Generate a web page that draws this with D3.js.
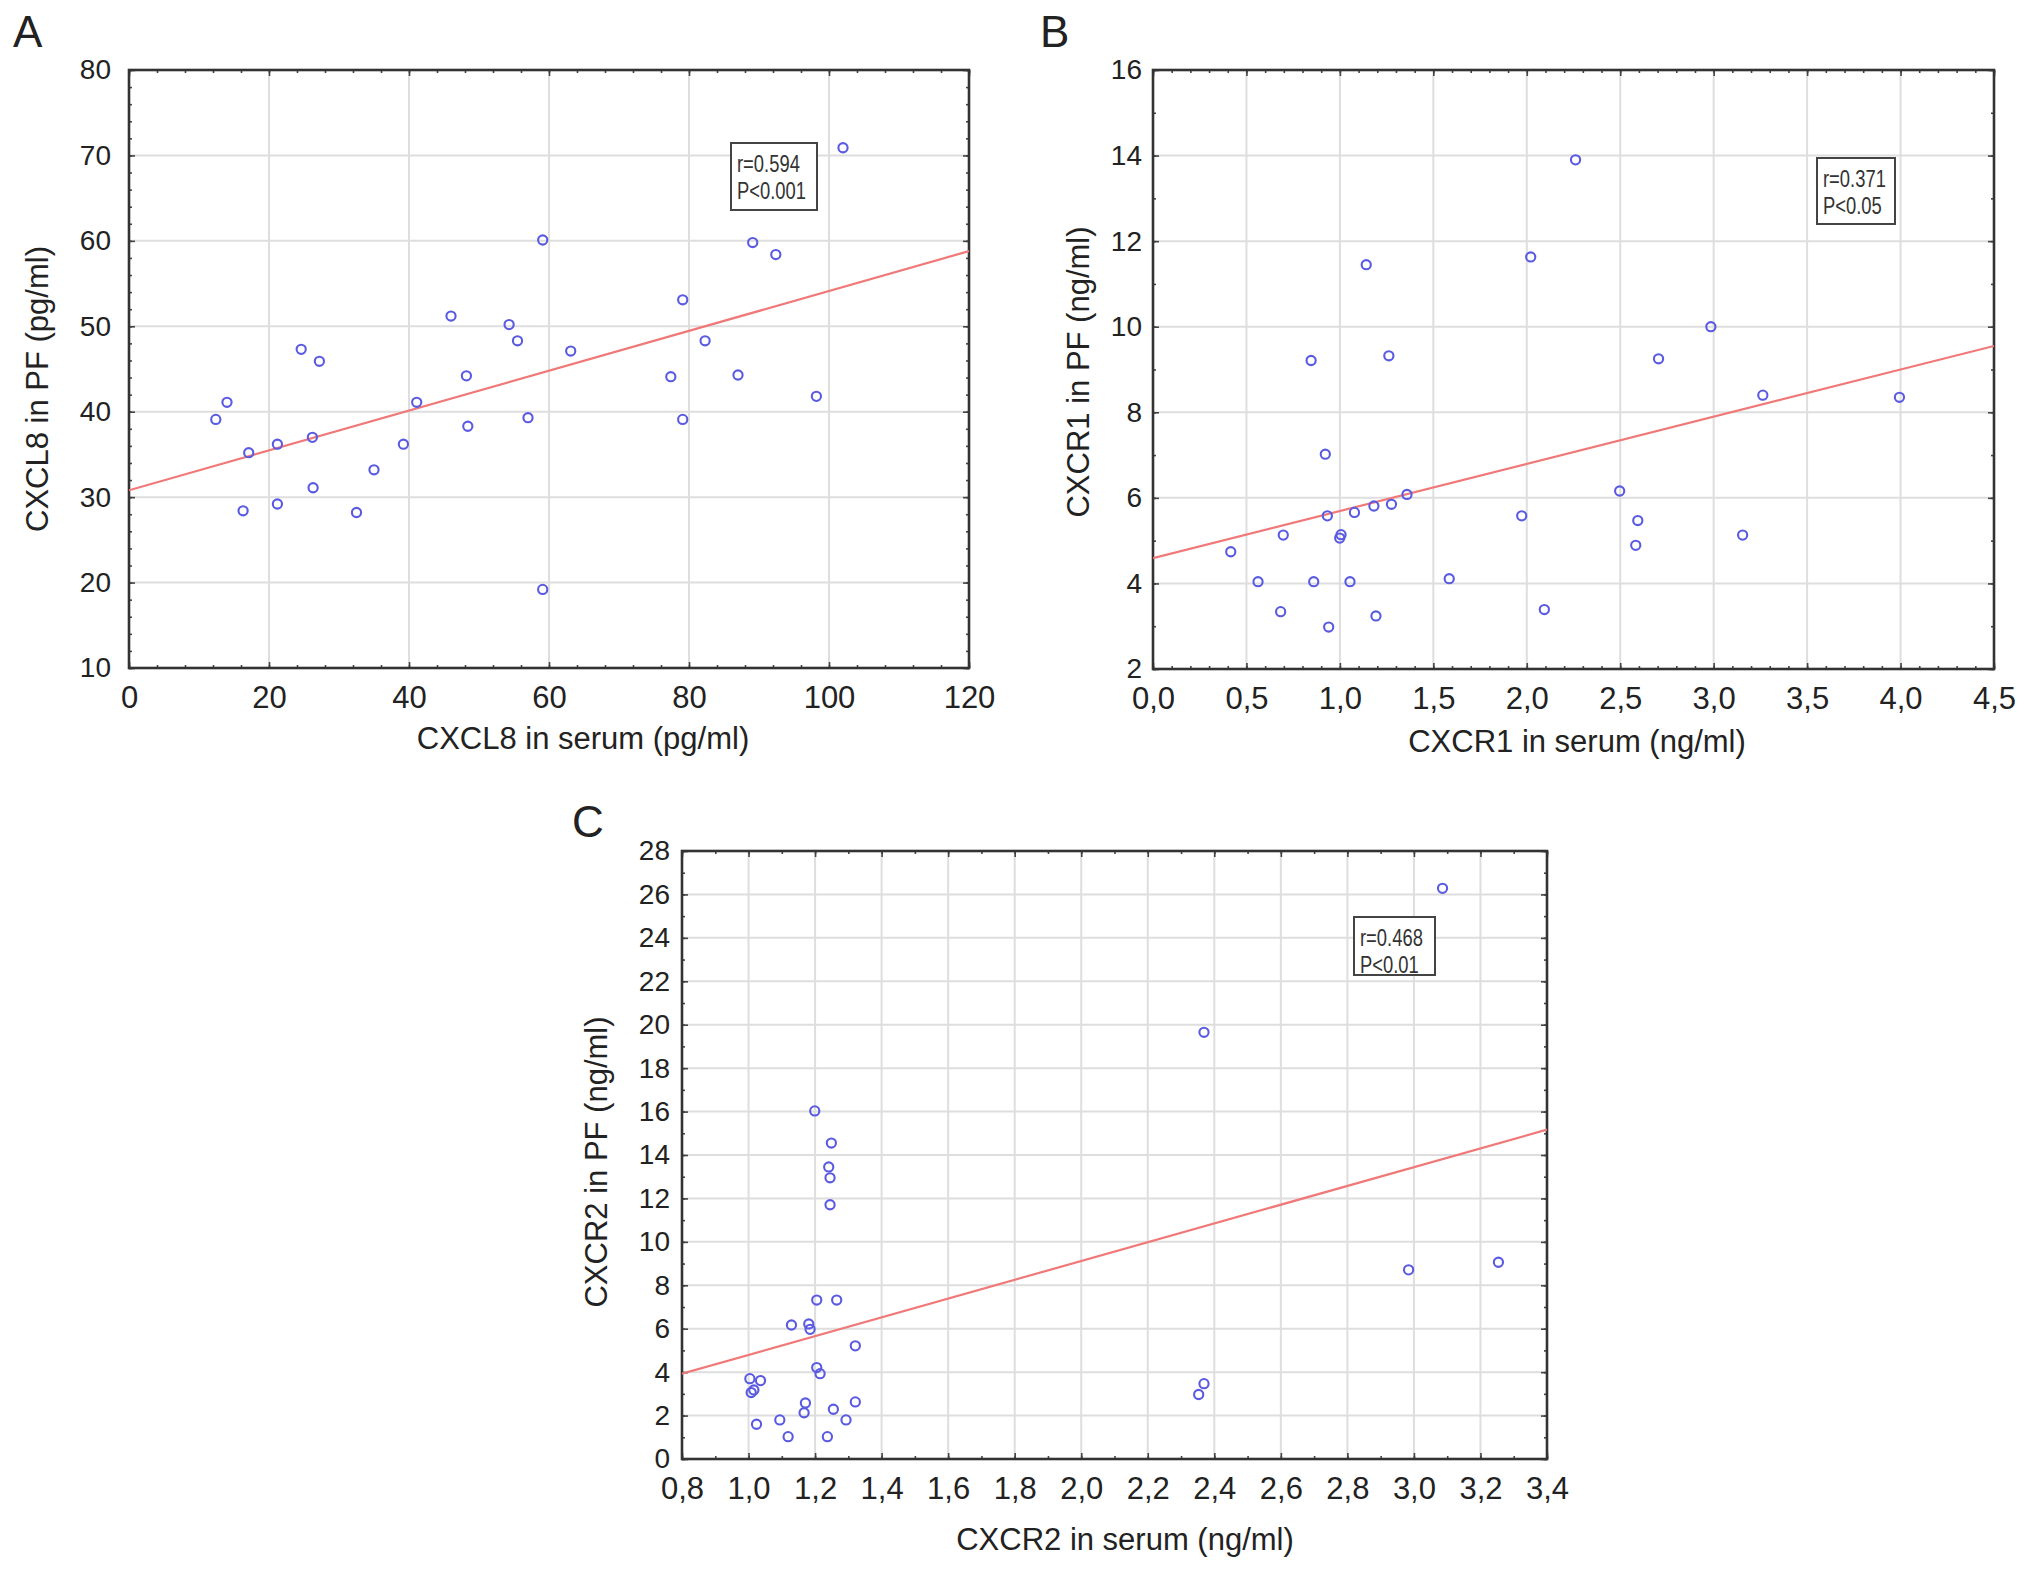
<!DOCTYPE html>
<html>
<head>
<meta charset="utf-8">
<script src="https://cdn.jsdelivr.net/npm/d3@7"></script>
<style>
  body { margin: 0; background: #fff; }
  text { font-family: "Liberation Sans", Arial, Helvetica, sans-serif; fill: #222; }
</style>
</head>
<body>
<div id="chart"></div>
<script>
// ---- panel A: CXCL8 ----
var cxcl8Serum = [12.4, 14.0, 16.3, 17.1, 21.2, 21.2, 24.6, 26.2, 26.3, 27.2, 32.5, 35.0, 39.2, 41.1, 46.0, 48.2,
                  48.4, 54.3, 55.5, 57.0, 59.1, 59.1, 63.1, 77.4, 79.1, 79.1, 82.3, 87.0, 89.1, 92.4, 98.2, 102.0]
var cxcl8PF    = [39.1, 41.1, 28.4, 35.2, 36.2, 29.2, 47.3, 37.0, 31.1, 45.9, 28.2, 33.2, 36.2, 41.1, 51.2, 44.2,
                  38.3, 50.2, 48.3, 39.3, 60.1, 19.2, 47.1, 44.1, 53.1, 39.1, 48.3, 44.3, 59.8, 58.4, 41.8, 70.9]
var cxcl8Fit = [[0, 30.8], [120, 58.8]]
var cxcl8Stat = ["r=0.594", "P<0.001"]

// ---- panel B: CXCR1 ----
var cxcr1Serum = [0.416, 0.562, 0.683, 0.697, 0.846, 0.860, 0.922, 0.933, 0.940, 0.999, 1.006, 1.054, 1.078, 1.141, 1.182, 1.193,
                  1.262, 1.276, 1.359, 1.585, 1.973, 2.021, 2.094, 2.261, 2.497, 2.583, 2.594, 2.705, 2.985, 3.155, 3.263, 3.994]
var cxcr1PF    = [4.74, 4.04, 3.34, 5.13, 9.21, 4.04, 7.02, 5.58, 2.98, 5.06, 5.14, 4.04, 5.66, 11.45, 5.81, 3.24,
                  9.32, 5.85, 6.08, 4.11, 5.58, 11.63, 3.39, 13.90, 6.16, 4.89, 5.47, 9.25, 10.0, 5.13, 8.40, 8.35]
var cxcr1Fit = [[0, 4.59], [4.5, 9.55]]
var cxcr1Stat = ["r=0.371", "P<0.05"]

// ---- panel C: CXCR2 ----
var cxcr2Serum = [1.004, 1.008, 1.016, 1.036, 1.024, 1.094, 1.119, 1.129, 1.167, 1.171, 1.181, 1.185, 1.199, 1.205, 1.205, 1.215,
                  1.237, 1.241, 1.245, 1.245, 1.249, 1.255, 1.265, 1.293, 1.321, 1.321, 2.353, 2.369, 2.369, 2.984, 3.086, 3.254]
var cxcr2PF    = [3.70, 3.06, 3.18, 3.61, 1.60, 1.80, 1.03, 6.17, 2.13, 2.58, 6.22, 5.97, 16.03, 7.32, 4.21, 3.93,
                  1.03, 13.45, 12.95, 11.71, 14.55, 2.29, 7.32, 1.80, 5.21, 2.63, 2.97, 19.65, 3.47, 8.71, 26.28, 9.06]
var cxcr2Fit = [[0.8, 3.93], [3.4, 15.17]]
var cxcr2Stat = ["r=0.468", "P<0.01"]

// tick values
var ticksAx = [0, 20, 40, 60, 80, 100, 120]
var ticksAy = [10, 20, 30, 40, 50, 60, 70, 80]
var ticksBx = [0, 0.5, 1, 1.5, 2, 2.5, 3, 3.5, 4, 4.5]
var ticksBy = [2, 4, 6, 8, 10, 12, 14, 16]
var ticksCx = [0.8, 1.0, 1.2, 1.4, 1.6, 1.8, 2.0, 2.2, 2.4, 2.6, 2.8, 3.0, 3.2, 3.4]
var ticksCy = [0, 2, 4, 6, 8, 10, 12, 14, 16, 18, 20, 22, 24, 26, 28]

var W = 2032, H = 1570

var svg = d3.select("#chart").append("svg")
    .attr("width", W)
    .attr("height", H)
    .style("background", "#fff")

var comma = d3.formatLocale({decimal: ",", thousands: " ", grouping: [3], currency: ["", ""]})

var panels = [
  { letter: "A", lx: 13, ly: 47,
    left: 129, right: 969, top: 70, bottom: 668,
    xs: cxcl8Serum, ys: cxcl8PF, fit: cxcl8Fit, stat: cxcl8Stat,
    xDom: [0, 120], yDom: [10, 80], xTicks: ticksAx, yTicks: ticksAy,
    xMinor: 4, yMinor: 2, xFmt: d3.format("d"), yFmt: d3.format("d"), yGap: 18,
    xTitle: "CXCL8 in serum (pg/ml)", xtx: 583, xty: 749,
    yTitle: "CXCL8 in PF (pg/ml)", ytx: 37, yty: 389,
    box: [731, 143, 86, 67] },
  { letter: "B", lx: 1040, ly: 47,
    left: 1153, right: 1994, top: 70, bottom: 669,
    xs: cxcr1Serum, ys: cxcr1PF, fit: cxcr1Fit, stat: cxcr1Stat,
    xDom: [0, 4.5], yDom: [2, 16], xTicks: ticksBx, yTicks: ticksBy,
    xMinor: 0.1, yMinor: 1, xFmt: comma.format(".1f"), yFmt: d3.format("d"), yGap: 11,
    xTitle: "CXCR1 in serum (ng/ml)", xtx: 1577, xty: 752,
    yTitle: "CXCR1 in PF (ng/ml)", ytx: 1078, yty: 372,
    box: [1817, 158, 78, 66] },
  { letter: "C", lx: 572, ly: 837,
    left: 682, right: 1547, top: 851, bottom: 1459,
    xs: cxcr2Serum, ys: cxcr2PF, fit: cxcr2Fit, stat: cxcr2Stat,
    xDom: [0.8, 3.4], yDom: [0, 28], xTicks: ticksCx, yTicks: ticksCy,
    xMinor: 0.1, yMinor: 1, xFmt: comma.format(".1f"), yFmt: d3.format("d"), yGap: 12,
    xTitle: "CXCR2 in serum (ng/ml)", xtx: 1125, xty: 1550,
    yTitle: "CXCR2 in PF (ng/ml)", ytx: 596, yty: 1162,
    box: [1354, 917, 81, 58] }
]

panels.forEach(function(p, idx) {
  var w = p.right - p.left,
      h = p.bottom - p.top

  var x = d3.scaleLinear().domain(p.xDom).range([0, w])
  var y = d3.scaleLinear().domain(p.yDom).range([h, 0])

  var xMinorVals = d3.range(p.xDom[0], p.xDom[1] + 1e-9, p.xMinor)
  var yMinorVals = d3.range(p.yDom[0], p.yDom[1] + 1e-9, p.yMinor)

  svg.append("text")
    .attr("x", p.lx)
    .attr("y", p.ly)
    .style("font-size", "44px")
    .text(p.letter)

  var g = svg.append("g")
    .attr("transform", "translate(" + p.left + "," + p.top + ")")

  g.append("clipPath").attr("id", "clip" + idx)
    .append("rect").attr("width", w).attr("height", h)

  // grid
  g.append("g").selectAll("line")
    .data(p.xTicks.slice(1, -1))
    .enter().append("line")
      .attr("x1", function(d) { return x(d) })
      .attr("x2", function(d) { return x(d) })
      .attr("y1", 0).attr("y2", h)
      .attr("stroke", "#dedede").attr("stroke-width", 2)
  g.append("g").selectAll("line")
    .data(p.yTicks.slice(1, -1))
    .enter().append("line")
      .attr("y1", function(d) { return y(d) })
      .attr("y2", function(d) { return y(d) })
      .attr("x1", 0).attr("x2", w)
      .attr("stroke", "#dedede").attr("stroke-width", 2)

  // axes, ticks pointing inward
  function style(sel) {
    sel.select(".domain").remove()
    sel.selectAll(".tick line").attr("stroke", "#444").attr("stroke-width", 1.6)
    sel.selectAll("text").attr("fill", "#222")
  }

  g.append("g").attr("transform", "translate(0," + h + ")")
    .call(d3.axisBottom(x).tickValues(p.xTicks).tickFormat(p.xFmt)
      .tickSizeInner(-6).tickSizeOuter(0).tickPadding(18))
    .call(style)
    .selectAll("text").style("font-size", "31px").style("font-family", null)
  g.append("g").attr("transform", "translate(0," + h + ")")
    .call(d3.axisBottom(x).tickValues(xMinorVals).tickFormat("").tickSizeInner(-3).tickSizeOuter(0))
    .call(style)
  g.append("g")
    .call(d3.axisTop(x).tickValues(p.xTicks).tickFormat("").tickSizeInner(-6).tickSizeOuter(0))
    .call(style)
  g.append("g")
    .call(d3.axisTop(x).tickValues(xMinorVals).tickFormat("").tickSizeInner(-3).tickSizeOuter(0))
    .call(style)

  g.append("g")
    .call(d3.axisLeft(y).tickValues(p.yTicks).tickFormat(p.yFmt)
      .tickSizeInner(-6).tickSizeOuter(0).tickPadding(p.yGap))
    .call(style)
    .selectAll("text").style("font-size", "28px")
  g.append("g")
    .call(d3.axisLeft(y).tickValues(yMinorVals).tickFormat("").tickSizeInner(-3).tickSizeOuter(0))
    .call(style)
  g.append("g").attr("transform", "translate(" + w + ",0)")
    .call(d3.axisRight(y).tickValues(p.yTicks).tickFormat("").tickSizeInner(-6).tickSizeOuter(0))
    .call(style)
  g.append("g").attr("transform", "translate(" + w + ",0)")
    .call(d3.axisRight(y).tickValues(yMinorVals).tickFormat("").tickSizeInner(-3).tickSizeOuter(0))
    .call(style)

  // frame
  g.append("rect")
    .attr("width", w).attr("height", h)
    .attr("fill", "none").attr("stroke", "#333").attr("stroke-width", 2.6)

  // regression line
  g.append("path")
    .datum(p.fit)
    .attr("clip-path", "url(#clip" + idx + ")")
    .attr("fill", "none")
    .attr("stroke", "#f07878")
    .attr("stroke-width", 2.2)
    .attr("d", d3.line().x(function(d) { return x(d[0]) }).y(function(d) { return y(d[1]) }))

  // points
  g.append("g").selectAll("circle")
    .data(p.xs.map(function(v, i) { return [v, p.ys[i]] }))
    .enter().append("circle")
      .attr("cx", function(d) { return x(d[0]) })
      .attr("cy", function(d) { return y(d[1]) })
      .attr("r", 4.6)
      .attr("fill", "none")
      .attr("stroke", "#5a5ae2")
      .attr("stroke-width", 2.1)

  // stat box, text squeezed horizontally like a narrow face
  var b = svg.append("g")
  b.append("rect")
    .attr("x", p.box[0]).attr("y", p.box[1])
    .attr("width", p.box[2]).attr("height", p.box[3])
    .attr("fill", "#fff").attr("stroke", "#444").attr("stroke-width", 2)
  b.selectAll("text")
    .data(p.stat)
    .enter().append("text")
      .attr("transform", function(d, i) {
        return "translate(" + (p.box[0] + 6) + "," + (p.box[1] + 29 + i * 27) + ") scale(0.8,1)"
      })
      .style("font-size", "23px")
      .style("fill", "#333")
      .text(function(d) { return d })

  // axis titles
  svg.append("text")
    .attr("x", p.xtx).attr("y", p.xty)
    .attr("text-anchor", "middle")
    .style("font-size", "31px")
    .text(p.xTitle)
  svg.append("text")
    .attr("transform", "translate(" + p.ytx + "," + p.yty + ") rotate(-90)")
    .attr("text-anchor", "middle")
    .attr("dominant-baseline", "central")
    .style("font-size", "31px")
    .text(p.yTitle)
})
</script>
</body>
</html>
